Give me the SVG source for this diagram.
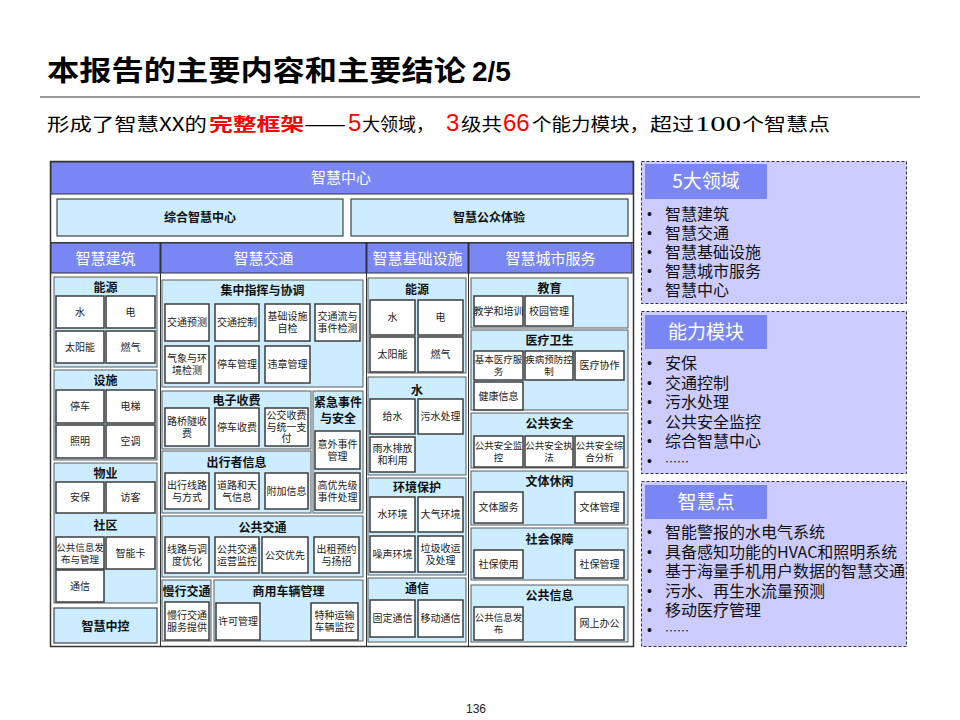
<svg xmlns="http://www.w3.org/2000/svg" width="960" height="720" viewBox="0 0 960 720">
<style>
.cjk{font-family:"Noto Sans CJK SC","Liberation Sans",sans-serif}
.it{fill:#fff;stroke:#3c3c3c;stroke-width:1.5}
.pn{fill:#CCECFF;stroke:#5a5a5a;stroke-width:1}
.hd{fill:#7B86F5;stroke:#333;stroke-width:1}
.t{font-family:"Noto Sans CJK SC","Liberation Sans",sans-serif;font-size:10px;fill:#1a1a1a;text-anchor:middle}
.t9{font-family:"Noto Sans CJK SC","Liberation Sans",sans-serif;font-size:9.5px;fill:#1a1a1a;text-anchor:middle}
.pt{font-family:"Noto Sans CJK SC","Liberation Sans",sans-serif;font-size:12px;font-weight:bold;fill:#111;text-anchor:middle}
.ht{font-family:"Noto Sans CJK SC","Liberation Sans",sans-serif;font-size:15px;fill:#fff;text-anchor:middle}
.rp{fill:#CCCCFF;stroke:#333;stroke-width:1;stroke-dasharray:3 2}
.rh{fill:#7B86F5}
.rt{font-family:"Noto Sans CJK SC","Liberation Sans",sans-serif;font-size:19px;fill:#fff;text-anchor:middle}
.bl{font-family:"Noto Sans CJK SC","Liberation Sans",sans-serif;font-size:16px;fill:#111}
.bu{font-family:"Liberation Sans",sans-serif;font-size:14px;fill:#111}
.red{fill:#FF0000}
</style>

<g id="title">
<text x="47" y="81" class="cjk" font-size="28" font-weight="bold" fill="#000" textLength="419" lengthAdjust="spacingAndGlyphs">本报告的主要内容和主要结论</text>
<text x="472" y="81" font-family="Liberation Sans,sans-serif" font-size="28" font-weight="bold" fill="#000">2/5</text>
<line x1="40" y1="97" x2="920" y2="97" stroke="#333" stroke-width="1"/>
</g>

<g id="subtitle" class="cjk" font-size="18" fill="#000">
<text x="47" y="131" textLength="160" lengthAdjust="spacingAndGlyphs">形成了智慧XX的</text>
<text x="209" y="131" class="red" font-weight="bold" textLength="95" lengthAdjust="spacingAndGlyphs">完整框架</text>
<text x="304" y="131" textLength="42" lengthAdjust="spacingAndGlyphs">——</text>
<text x="348" y="131" class="red" font-family="Liberation Sans,sans-serif" font-size="24">5</text>
<text x="362" y="131" textLength="72" lengthAdjust="spacingAndGlyphs">大领域，</text>
<text x="446" y="131" class="red" font-family="Liberation Sans,sans-serif" font-size="24">3</text>
<text x="461" y="131" textLength="41" lengthAdjust="spacingAndGlyphs">级共</text>
<text x="503" y="131" class="red" font-family="Liberation Sans,sans-serif" font-size="24">66</text>
<text x="532" y="131" textLength="117" lengthAdjust="spacingAndGlyphs">个能力模块，</text>
<text x="650" y="131" textLength="44" lengthAdjust="spacingAndGlyphs">超过</text>
<text x="695" y="131" font-family="Liberation Serif,serif" font-size="20" textLength="46" lengthAdjust="spacingAndGlyphs">100</text>
<text x="742" y="131" textLength="88" lengthAdjust="spacingAndGlyphs">个智慧点</text>
</g>

<g id="frame">
<rect x="50.5" y="161.5" width="583" height="485" fill="#fff" stroke="#333" stroke-width="1.5"/>
<line x1="51" y1="242.5" x2="633" y2="242.5" stroke="#333"/>
<line x1="160.5" y1="243" x2="160.5" y2="646" stroke="#333"/>
<line x1="366.5" y1="243" x2="366.5" y2="646" stroke="#333"/>
<line x1="468.5" y1="243" x2="468.5" y2="646" stroke="#333"/>
</g>

<g id="zhihui-zhongxin">
<rect class="hd" x="51" y="162" width="582" height="32"/>
<text class="ht" x="341" y="183">智慧中心</text>
</g>
<g id="zonghe">
<rect x="57" y="199" width="286" height="37" fill="#CCECFF" stroke="#444" stroke-width="1.2"/>
<text class="pt" x="200" y="222">综合智慧中心</text>
</g>
<g id="gongzhong">
<rect x="351" y="199" width="277" height="37" fill="#CCECFF" stroke="#444" stroke-width="1.2"/>
<text class="pt" x="489" y="222">智慧公众体验</text>
</g>

<g id="h-jianzhu"><rect class="hd" x="51" y="243" width="109" height="30"/><text class="ht" x="105.5" y="264">智慧建筑</text></g>
<g id="h-jiaotong"><rect class="hd" x="161" y="243" width="205" height="30"/><text class="ht" x="263.5" y="264">智慧交通</text></g>
<g id="h-jichu"><rect class="hd" x="367" y="243" width="101" height="30"/><text class="ht" x="417.5" y="264">智慧基础设施</text></g>
<g id="h-chengshi"><rect class="hd" x="469" y="243" width="163" height="30"/><text class="ht" x="550.5" y="264">智慧城市服务</text></g>

<!-- 智慧建筑 -->
<g id="jz-nengyuan">
<rect class="pn" x="54" y="277" width="103" height="90"/>
<text class="pt" x="105.5" y="292">能源</text>
</g>
<g id="jz-shui"><rect class="it" x="56" y="296" width="48" height="32"/><text class="t" x="80" y="315.5">水</text></g>
<g id="jz-dian"><rect class="it" x="106" y="296" width="49" height="32"/><text class="t" x="130.5" y="315.5">电</text></g>
<g id="jz-taiyang"><rect class="it" x="56" y="331" width="48" height="32"/><text class="t" x="80" y="350.5">太阳能</text></g>
<g id="jz-ranqi"><rect class="it" x="106" y="331" width="49" height="32"/><text class="t" x="130.5" y="350.5">燃气</text></g>

<g id="jz-sheshi">
<rect class="pn" x="54" y="370" width="103" height="90"/>
<text class="pt" x="105.5" y="385">设施</text>
</g>
<g id="jz-tingche"><rect class="it" x="56" y="390" width="48" height="33"/><text class="t" x="80" y="410">停车</text></g>
<g id="jz-dianti"><rect class="it" x="106" y="390" width="49" height="33"/><text class="t" x="130.5" y="410">电梯</text></g>
<g id="jz-zhaoming"><rect class="it" x="56" y="425" width="48" height="33"/><text class="t" x="80" y="445">照明</text></g>
<g id="jz-kongtiao"><rect class="it" x="106" y="425" width="49" height="33"/><text class="t" x="130.5" y="445">空调</text></g>

<g id="jz-wuye-shequ">
<rect class="pn" x="54" y="463" width="103" height="140"/>
<text class="pt" x="105.5" y="478">物业</text>
<text class="pt" x="105.5" y="530">社区</text>
</g>
<g id="jz-anbao"><rect class="it" x="56" y="482" width="48" height="31"/><text class="t" x="80" y="501">安保</text></g>
<g id="jz-fangke"><rect class="it" x="106" y="482" width="49" height="31"/><text class="t" x="130.5" y="501">访客</text></g>
<g id="jz-xinxi"><rect class="it" x="56" y="537" width="48" height="32"/><text class="t9" x="80" y="550.5">公共信息发<tspan x="80" dy="12">布与管理</tspan></text></g>
<g id="jz-zhinengka"><rect class="it" x="106" y="537" width="49" height="32"/><text class="t" x="130.5" y="556.5">智能卡</text></g>
<g id="jz-tongxin"><rect class="it" x="56" y="570" width="48" height="32"/><text class="t" x="80" y="589.5">通信</text></g>

<g id="jz-zhongkong">
<rect x="54" y="608" width="103" height="35" fill="#CCECFF" stroke="#444" stroke-width="1.2"/>
<text class="pt" x="105.5" y="631" font-size="15">智慧中控</text>
</g>

<!-- 智慧交通 -->
<g id="jt-zhihui"><rect class="pn" x="162" y="280" width="201" height="107"/><text class="pt" x="262.5" y="295">集中指挥与协调</text></g>
<g id="jt-yuce"><rect class="it" x="165" y="304" width="44" height="37"/><text class="t" x="187" y="326">交通预测</text></g>
<g id="jt-kongzhi"><rect class="it" x="215" y="304" width="44" height="37"/><text class="t" x="237" y="326">交通控制</text></g>
<g id="jt-zijian"><rect class="it" x="265" y="304" width="45" height="37"/><text class="t" x="287.5" y="320">基础设施<tspan x="287.5" dy="12">自检</tspan></text></g>
<g id="jt-liu"><rect class="it" x="315" y="304" width="45" height="37"/><text class="t" x="337.5" y="320">交通流与<tspan x="337.5" dy="12">事件检测</tspan></text></g>
<g id="jt-qixiang"><rect class="it" x="165" y="346" width="44" height="37"/><text class="t" x="187" y="362">气象与环<tspan x="187" dy="12">境检测</tspan></text></g>
<g id="jt-tcgl"><rect class="it" x="215" y="346" width="44" height="37"/><text class="t" x="237" y="368">停车管理</text></g>
<g id="jt-weizhang"><rect class="it" x="265" y="346" width="45" height="37"/><text class="t" x="287.5" y="368">违章管理</text></g>

<g id="jt-shoufei"><rect class="pn" x="162" y="391" width="149" height="58"/><text class="pt" x="236.5" y="405">电子收费</text></g>
<g id="jt-luqiao"><rect class="it" x="165" y="408" width="44" height="38"/><text class="t" x="187" y="424.5">路桥隧收<tspan x="187" dy="12">费</tspan></text></g>
<g id="jt-tcsf"><rect class="it" x="215" y="408" width="44" height="38"/><text class="t" x="237" y="430.5">停车收费</text></g>
<g id="jt-gjsf"><rect class="it" x="265" y="408" width="43" height="38"/><text class="t" x="286.5" y="419">公交收费<tspan x="286.5" dy="11.5">与统一支</tspan><tspan x="286.5" dy="11.5">付</tspan></text></g>

<g id="jt-chuxing"><rect class="pn" x="162" y="451" width="149" height="62"/><text class="pt" x="236.5" y="467">出行者信息</text></g>
<g id="jt-xianlu"><rect class="it" x="165" y="473" width="44" height="36"/><text class="t" x="187" y="488.5">出行线路<tspan x="187" dy="12">与方式</tspan></text></g>
<g id="jt-daolu"><rect class="it" x="215" y="473" width="44" height="36"/><text class="t" x="237" y="488.5">道路和天<tspan x="237" dy="12">气信息</tspan></text></g>
<g id="jt-fujia"><rect class="it" x="265" y="473" width="43" height="36"/><text class="t" x="286.5" y="494.5">附加信息</text></g>

<g id="jt-jinji"><rect class="pn" x="313" y="391" width="50" height="122"/><text class="pt" x="338" y="407">紧急事件<tspan x="338" dy="16">与安全</tspan></text></g>
<g id="jt-yiwai"><rect class="it" x="315" y="431" width="45" height="38"/><text class="t" x="337.5" y="447.5">意外事件<tspan x="337.5" dy="12">管理</tspan></text></g>
<g id="jt-youxian"><rect class="it" x="315" y="473" width="45" height="37"/><text class="t" x="337.5" y="489">高优先级<tspan x="337.5" dy="12">事件处理</tspan></text></g>

<g id="jt-gonggong"><rect class="pn" x="162" y="516" width="201" height="61"/><text class="pt" x="262.5" y="532">公共交通</text></g>
<g id="jt-diaodu"><rect class="it" x="165" y="537" width="44" height="36"/><text class="t" x="187" y="552.5">线路与调<tspan x="187" dy="12">度优化</tspan></text></g>
<g id="jt-yunying"><rect class="it" x="215" y="537" width="44" height="36"/><text class="t" x="237" y="552.5">公共交通<tspan x="237" dy="12">运营监控</tspan></text></g>
<g id="jt-gjyx"><rect class="it" x="262" y="537" width="46" height="36"/><text class="t" x="285" y="558.5">公交优先</text></g>
<g id="jt-chuzu"><rect class="it" x="314" y="537" width="45" height="36"/><text class="t" x="336.5" y="552.5">出租预约<tspan x="336.5" dy="12">与扬招</tspan></text></g>

<g id="jt-manxing"><rect class="pn" x="162" y="580" width="49" height="61"/><text class="pt" x="186.5" y="596">慢行交通</text></g>
<g id="jt-mxfw"><rect class="it" x="165" y="602" width="44" height="38"/><text class="t" x="187" y="618.5">慢行交通<tspan x="187" dy="12">服务提供</tspan></text></g>
<g id="jt-shangyong"><rect class="pn" x="214" y="580" width="149" height="61"/><text class="pt" x="288.5" y="596">商用车辆管理</text></g>
<g id="jt-xuke"><rect class="it" x="216" y="603" width="44" height="37"/><text class="t" x="238" y="625">许可管理</text></g>
<g id="jt-tezhong"><rect class="it" x="311" y="603" width="47" height="37"/><text class="t" x="334.5" y="619">特种运输<tspan x="334.5" dy="12">车辆监控</tspan></text></g>

<!-- 智慧基础设施 -->
<g id="jc-nengyuan"><rect class="pn" x="368" y="278" width="98" height="95"/><text class="pt" x="417" y="294">能源</text></g>
<g id="jc-shui"><rect class="it" x="370" y="300" width="45" height="35"/><text class="t" x="392.5" y="321">水</text></g>
<g id="jc-dian"><rect class="it" x="418" y="300" width="45" height="35"/><text class="t" x="440.5" y="321">电</text></g>
<g id="jc-taiyang"><rect class="it" x="370" y="337" width="45" height="35"/><text class="t" x="392.5" y="358">太阳能</text></g>
<g id="jc-ranqi"><rect class="it" x="418" y="337" width="45" height="35"/><text class="t" x="440.5" y="358">燃气</text></g>

<g id="jc-shuip"><rect class="pn" x="368" y="377" width="98" height="98"/><text class="pt" x="417" y="395">水</text></g>
<g id="jc-geishui"><rect class="it" x="370" y="399" width="45" height="35"/><text class="t" x="392.5" y="420">给水</text></g>
<g id="jc-wushui"><rect class="it" x="418" y="399" width="45" height="35"/><text class="t" x="440.5" y="420">污水处理</text></g>
<g id="jc-yushui"><rect class="it" x="370" y="437" width="45" height="35"/><text class="t" x="392.5" y="452">雨水排放<tspan x="392.5" dy="12">和利用</tspan></text></g>

<g id="jc-huanjing"><rect class="pn" x="368" y="478" width="98" height="97"/><text class="pt" x="417" y="492">环境保护</text></g>
<g id="jc-shuihj"><rect class="it" x="370" y="497" width="45" height="35"/><text class="t" x="392.5" y="518">水环境</text></g>
<g id="jc-daqi"><rect class="it" x="418" y="497" width="45" height="35"/><text class="t" x="440.5" y="518">大气环境</text></g>
<g id="jc-zaosheng"><rect class="it" x="370" y="536" width="45" height="36"/><text class="t" x="392.5" y="557.5">噪声环境</text></g>
<g id="jc-laji"><rect class="it" x="418" y="536" width="45" height="36"/><text class="t" x="440.5" y="551.5">垃圾收运<tspan x="440.5" dy="12">及处理</tspan></text></g>

<g id="jc-tongxin"><rect class="pn" x="368" y="578" width="98" height="64"/><text class="pt" x="417" y="593">通信</text></g>
<g id="jc-guding"><rect class="it" x="370" y="600" width="45" height="37"/><text class="t" x="392.5" y="622">固定通信</text></g>
<g id="jc-yidong"><rect class="it" x="418" y="600" width="45" height="37"/><text class="t" x="440.5" y="622">移动通信</text></g>

<!-- 智慧城市服务 -->
<g id="cs-jiaoyu"><rect class="pn" x="471" y="278" width="157" height="50"/><text class="pt" x="549.5" y="293">教育</text></g>
<g id="cs-peixun"><rect class="it" x="474" y="296" width="49" height="30"/><text class="t" x="498.5" y="314.5">教学和培训</text></g>
<g id="cs-xiaoyuan"><rect class="it" x="525" y="296" width="48" height="30"/><text class="t" x="549" y="314.5">校园管理</text></g>

<g id="cs-yiliao"><rect class="pn" x="471" y="330" width="157" height="80"/><text class="pt" x="549.5" y="345">医疗卫生</text></g>
<g id="cs-jiben"><rect class="it" x="474" y="351" width="49" height="29"/><text class="t9" x="498.5" y="363">基本医疗服<tspan x="498.5" dy="12">务</tspan></text></g>
<g id="cs-jibing"><rect class="it" x="525" y="351" width="48" height="29"/><text class="t9" x="549" y="363">疾病预防控<tspan x="549" dy="12">制</tspan></text></g>
<g id="cs-xiezuo"><rect class="it" x="575" y="351" width="49" height="29"/><text class="t" x="599.5" y="369">医疗协作</text></g>
<g id="cs-jiankang"><rect class="it" x="474" y="382" width="49" height="28"/><text class="t" x="498.5" y="399.5">健康信息</text></g>

<g id="cs-anquan"><rect class="pn" x="471" y="413" width="157" height="55"/><text class="pt" x="549.5" y="428">公共安全</text></g>
<g id="cs-jiankong"><rect class="it" x="474" y="436" width="49" height="31"/><text class="t9" x="498.5" y="449">公共安全监<tspan x="498.5" dy="12">控</tspan></text></g>
<g id="cs-zhifa"><rect class="it" x="525" y="436" width="48" height="31"/><text class="t9" x="549" y="449">公共安全执<tspan x="549" dy="12">法</tspan></text></g>
<g id="cs-fenxi"><rect class="it" x="575" y="436" width="49" height="31"/><text class="t9" x="599.5" y="449">公共安全综<tspan x="599.5" dy="12">合分析</tspan></text></g>

<g id="cs-wenti"><rect class="pn" x="471" y="471" width="157" height="54"/><text class="pt" x="549.5" y="486">文体休闲</text></g>
<g id="cs-wtfw"><rect class="it" x="474" y="492" width="49" height="31"/><text class="t" x="498.5" y="511">文体服务</text></g>
<g id="cs-wtgl"><rect class="it" x="575" y="492" width="49" height="31"/><text class="t" x="599.5" y="511">文体管理</text></g>

<g id="cs-shebao"><rect class="pn" x="471" y="528" width="157" height="52"/><text class="pt" x="549.5" y="544">社会保障</text></g>
<g id="cs-sbsy"><rect class="it" x="474" y="550" width="49" height="28"/><text class="t" x="498.5" y="567.5">社保使用</text></g>
<g id="cs-sbgl"><rect class="it" x="575" y="550" width="49" height="28"/><text class="t" x="599.5" y="567.5">社保管理</text></g>

<g id="cs-xinxi"><rect class="pn" x="471" y="585" width="157" height="57"/><text class="pt" x="549.5" y="600">公共信息</text></g>
<g id="cs-fabu"><rect class="it" x="474" y="607" width="49" height="33"/><text class="t9" x="498.5" y="621">公共信息发<tspan x="498.5" dy="12">布</tspan></text></g>
<g id="cs-wangshang"><rect class="it" x="575" y="607" width="49" height="33"/><text class="t" x="599.5" y="627">网上办公</text></g>

<!-- right panels -->
<g id="rp-lingyu">
<rect class="rp" x="641.5" y="161.5" width="265" height="142"/>
<rect class="rh" x="645" y="164" width="122" height="35"/>
<text class="rt" x="706" y="188">5大领域</text>
<text class="bu" x="647" y="219">•<tspan x="647" dy="19">•</tspan><tspan x="647" dy="19">•</tspan><tspan x="647" dy="19">•</tspan><tspan x="647" dy="19">•</tspan></text>
<text class="bl" x="665" y="220">智慧建筑<tspan x="665" dy="19">智慧交通</tspan><tspan x="665" dy="19">智慧基础设施</tspan><tspan x="665" dy="19">智慧城市服务</tspan><tspan x="665" dy="19">智慧中心</tspan></text>
</g>

<g id="rp-mokuai">
<rect class="rp" x="641.5" y="311.5" width="265" height="162"/>
<rect class="rh" x="645" y="315" width="122" height="34"/>
<text class="rt" x="706" y="339">能力模块</text>
<text class="bu" x="647" y="368">•<tspan x="647" dy="19.5">•</tspan><tspan x="647" dy="19.5">•</tspan><tspan x="647" dy="19.5">•</tspan><tspan x="647" dy="19.5">•</tspan><tspan x="647" dy="19.5">•</tspan></text>
<text class="bl" x="665" y="369">安保<tspan x="665" dy="19.5">交通控制</tspan><tspan x="665" dy="19.5">污水处理</tspan><tspan x="665" dy="19.5">公共安全监控</tspan><tspan x="665" dy="19.5">综合智慧中心</tspan><tspan x="665" dy="19.5" font-size="12">……</tspan></text>
</g>

<g id="rp-zhihuidian">
<rect class="rp" x="641.5" y="481.5" width="265" height="165"/>
<rect class="rh" x="645" y="485" width="122" height="34"/>
<text class="rt" x="706" y="509">智慧点</text>
<text class="bu" x="647" y="537">•<tspan x="647" dy="19.5">•</tspan><tspan x="647" dy="19.5">•</tspan><tspan x="647" dy="19.5">•</tspan><tspan x="647" dy="19.5">•</tspan><tspan x="647" dy="20">•</tspan></text>
<text class="bl" x="665" y="538">智能警报的水电气系统<tspan x="665" dy="19.5">具备感知功能的HVAC和照明系统</tspan><tspan x="665" dy="19.5">基于海量手机用户数据的智慧交通</tspan><tspan x="665" dy="19.5">污水、再生水流量预测</tspan><tspan x="665" dy="19.5">移动医疗管理</tspan><tspan x="665" dy="20" font-size="12">……</tspan></text>
</g>

<text x="476" y="713" font-family="Liberation Sans,sans-serif" font-size="12" fill="#222" text-anchor="middle">136</text>
</svg>
